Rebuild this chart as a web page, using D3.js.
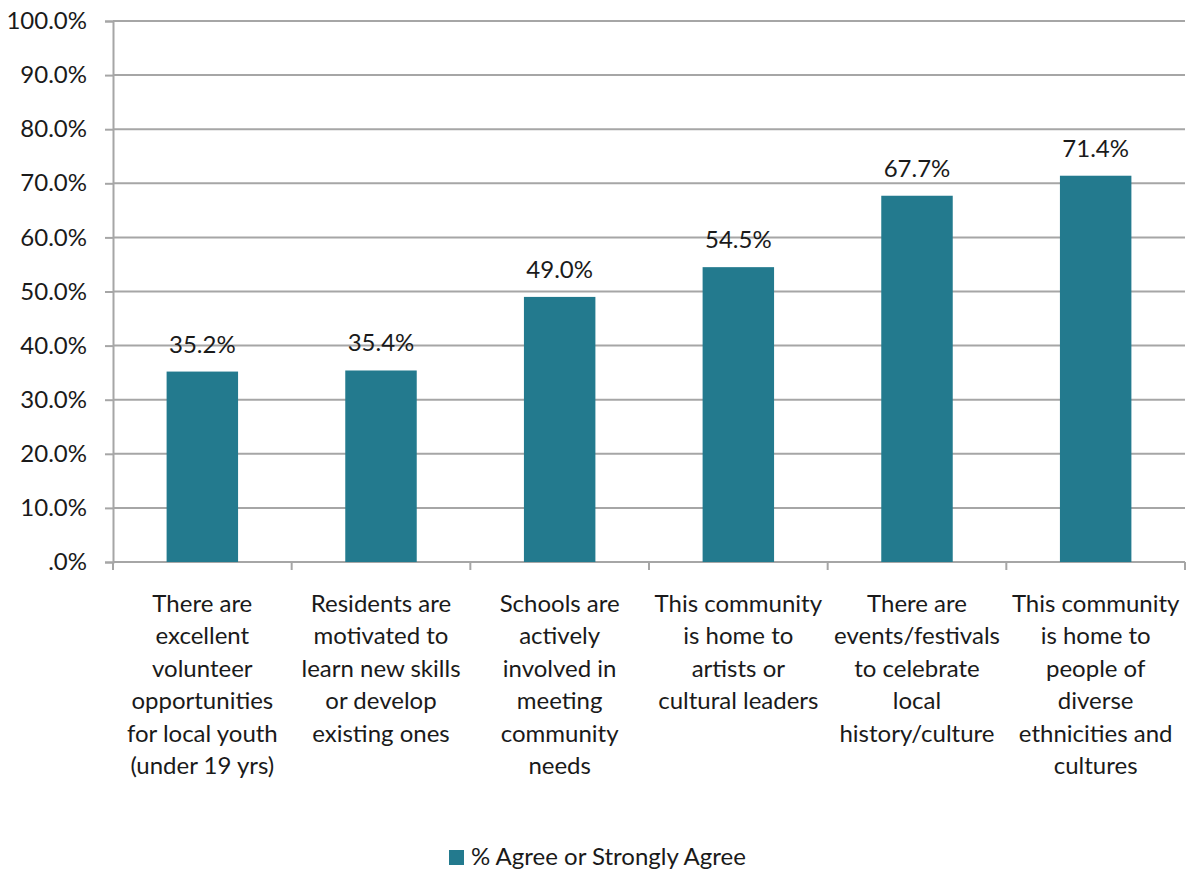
<!DOCTYPE html>
<html>
<head>
<meta charset="utf-8">
<script src="https://cdn.jsdelivr.net/npm/d3@7"></script>
<style>
  html, body { margin: 0; padding: 0; background: #fff; }
  svg { display: block; }
  text { font-family: Lato, "Open Sans", sans-serif; fill: #1a1a1a; }
</style>
</head>
<body>
<svg id="chart" width="1189" height="869"></svg>
<script>
// Survey statements (each entry is the wrapped label, one string per line)
const categories = [
  ["There are", "excellent", "volunteer", "opportunities", "for local youth", "(under 19 yrs)"],
  ["Residents are", "motivated to", "learn new skills", "or develop", "existing ones"],
  ["Schools are", "actively", "involved in", "meeting", "community", "needs"],
  ["This community", "is home to", "artists or", "cultural leaders"],
  ["There are", "events/festivals", "to celebrate", "local", "history/culture"],
  ["This community", "is home to", "people of", "diverse", "ethnicities and", "cultures"]
];
const values = [35.2, 35.4, 49.0, 54.5, 67.7, 71.4];
const yTicks = [0, 10, 20, 30, 40, 50, 60, 70, 80, 90, 100];
const seriesName = "% Agree or Strongly Agree";

const barColor = "#237a8e";
const gridColor = "#a6a6a6";
const fontSize = "24px";

const svg = d3.select("#chart");
const margin = { left: 113, right: 4, top: 21, bottom: 307 };
const W = 1189, H = 869;
const plotW = W - margin.left - margin.right;
const plotH = H - margin.top - margin.bottom;

const fmt = v => (v === 0 ? ".0%" : v.toFixed(1) + "%");

const x = d3.scaleBand()
  .domain(d3.range(categories.length))
  .range([0, plotW])
  .paddingInner(0.6)
  .paddingOuter(0.3);

const y = d3.scaleLinear().domain([0, 100]).range([plotH, 0]);

const g = svg.append("g").attr("transform", `translate(${margin.left},${margin.top})`);

// Horizontal gridlines
g.append("g")
  .selectAll("line")
  .data(yTicks)
  .join("line")
  .attr("x1", 0)
  .attr("x2", plotW)
  .attr("y1", d => y(d))
  .attr("y2", d => y(d))
  .attr("stroke", gridColor)
  .attr("stroke-width", 2);

// Y axis
const yAxis = g.append("g")
  .call(d3.axisLeft(y).tickValues(yTicks).tickFormat(fmt).tickSize(8).tickPadding(18));
yAxis.select(".domain").attr("stroke", gridColor).attr("stroke-width", 2);
yAxis.selectAll(".tick line").attr("stroke", gridColor).attr("stroke-width", 2);
yAxis.selectAll(".tick text")
  .style("font-family", "Lato, 'Open Sans', sans-serif")
  .style("font-size", fontSize)
  .attr("fill", "#1a1a1a");

// X axis baseline and category boundary ticks
const bounds = d3.range(categories.length + 1).map(i => i * plotW / categories.length);
g.append("line")
  .attr("x1", 0).attr("x2", plotW)
  .attr("y1", plotH).attr("y2", plotH)
  .attr("stroke", gridColor).attr("stroke-width", 2);
g.append("g")
  .selectAll("line")
  .data(bounds)
  .join("line")
  .attr("x1", d => d).attr("x2", d => d)
  .attr("y1", plotH).attr("y2", plotH + 8)
  .attr("stroke", gridColor).attr("stroke-width", 2);

// Bars
g.append("g")
  .selectAll("rect")
  .data(values)
  .join("rect")
  .attr("x", (d, i) => x(i))
  .attr("width", x.bandwidth())
  .attr("y", d => y(d))
  .attr("height", d => plotH - y(d))
  .attr("fill", barColor);

// Value labels
g.append("g")
  .selectAll("text")
  .data(values)
  .join("text")
  .attr("x", (d, i) => x(i) + x.bandwidth() / 2)
  .attr("y", d => y(d) - 19)
  .attr("text-anchor", "middle")
  .style("font-size", fontSize)
  .text(d => fmt(d));

// Category labels
const catG = g.append("g");
categories.forEach((lines, i) => {
  const cx = x(i) + x.bandwidth() / 2;
  const t = catG.append("text")
    .attr("text-anchor", "middle")
    .attr("x", cx)
    .attr("y", plotH + 50)
    .style("font-size", fontSize);
  lines.forEach((ln, j) => {
    t.append("tspan")
      .attr("x", cx)
      .attr("dy", j === 0 ? 0 : 32.4)
      .text(ln);
  });
});

// Legend
const legend = svg.append("g").attr("transform", "translate(449,850)");
legend.append("rect").attr("width", 15).attr("height", 15).attr("fill", barColor);
legend.append("text")
  .attr("x", 22).attr("y", 15)
  .style("font-size", fontSize)
  .text(seriesName);
</script>
</body>
</html>
